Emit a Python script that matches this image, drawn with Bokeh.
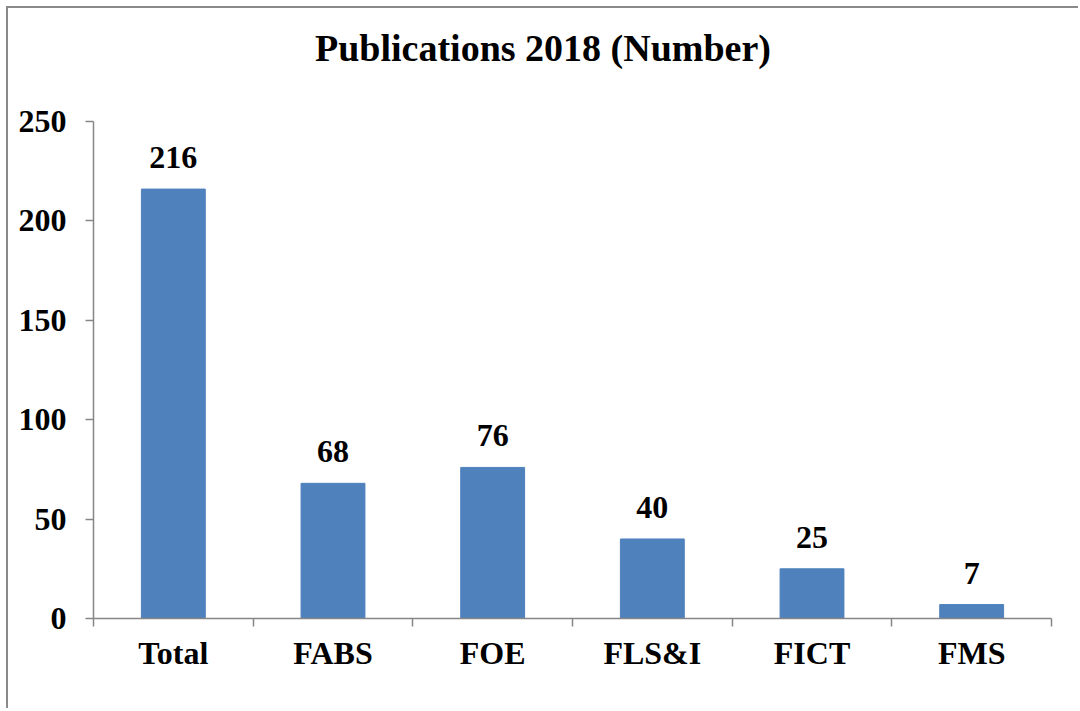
import numpy as np
from bokeh.plotting import figure
from bokeh.layouts import column
from bokeh.models import ColumnDataSource, Range1d, FixedTicker, LabelSet, Div
from bokeh.embed import file_html
from bokeh.resources import INLINE

title_text = "Publications 2018 (Number)"
categories = ["Total", "FABS", "FOE", "FLS&I", "FICT", "FMS"]
values = [216, 68, 76, 40, 25, 7]
y_ticks = [0, 50, 100, 150, 200, 250]

xpos = [i + 0.5 for i in range(len(categories))]
src = ColumnDataSource(dict(x=xpos, top=values, lab=[str(v) for v in values]))

FONT = "Liberation Serif"
GRAY = "#868686"

title_div = Div(
    text=('<div style="margin:0;padding:21px 0 0 4px;width:1066px;text-align:center;'
          'font-family:\'Liberation Serif\';font-size:38px;font-weight:bold;'
          'line-height:1;color:black;white-space:nowrap;">' + title_text + '</div>'),
    width=1070, height=93, margin=(0, 0, 0, 0))

p = figure(width=1070, height=607, output_backend="svg", toolbar_location=None,
           x_range=Range1d(0, len(categories)), y_range=Range1d(0, 250),
           min_border_left=85, min_border_right=27, min_border_top=20, min_border_bottom=90,
           margin=(0, 0, 0, 0))

p.vbar(x="x", top="top", width=0.4, source=src, fill_color="#4F81BD", line_color="#4F81BD")

labels = LabelSet(x="x", y="top", text="lab", source=src, y_offset=21, text_align="center",
                  text_baseline="alphabetic", text_font=FONT, text_font_size="32px",
                  text_font_style="bold", text_color="black")
p.add_layout(labels)

p.xgrid.visible = False
p.ygrid.visible = False
p.outline_line_color = None

xa = p.xaxis[0]
xa.ticker = FixedTicker(ticks=xpos, minor_ticks=list(range(len(categories) + 1)))
xa.major_label_overrides = {x: c for x, c in zip(xpos, categories)}
xa.major_tick_out = 0
xa.major_tick_in = 0
xa.minor_tick_out = 8
xa.minor_tick_in = 0
xa.minor_tick_line_color = GRAY
xa.minor_tick_line_width = 1.5
xa.axis_line_color = GRAY
xa.axis_line_width = 1.5
xa.major_label_standoff = 8
xa.major_label_text_font = FONT
xa.major_label_text_font_size = "32px"
xa.major_label_text_font_style = "bold"
xa.major_label_text_color = "black"

ya = p.yaxis[0]
ya.ticker = FixedTicker(ticks=y_ticks)
ya.major_tick_out = 8
ya.major_tick_in = 0
ya.minor_tick_out = 0
ya.minor_tick_in = 0
ya.major_tick_line_color = GRAY
ya.major_tick_line_width = 1.5
ya.axis_line_color = GRAY
ya.axis_line_width = 1.5
ya.major_label_standoff = 19
ya.major_label_text_font = FONT
ya.major_label_text_font_size = "32px"
ya.major_label_text_font_style = "bold"
ya.major_label_text_color = "black"

layout = column(title_div, p, spacing=0, margin=(6, 0, 0, 6))
layout.styles = {"border-left": "2px solid #8a8a8a", "border-top": "2px solid #8a8a8a"}

open("out.html", "w").write(file_html(layout, INLINE))
